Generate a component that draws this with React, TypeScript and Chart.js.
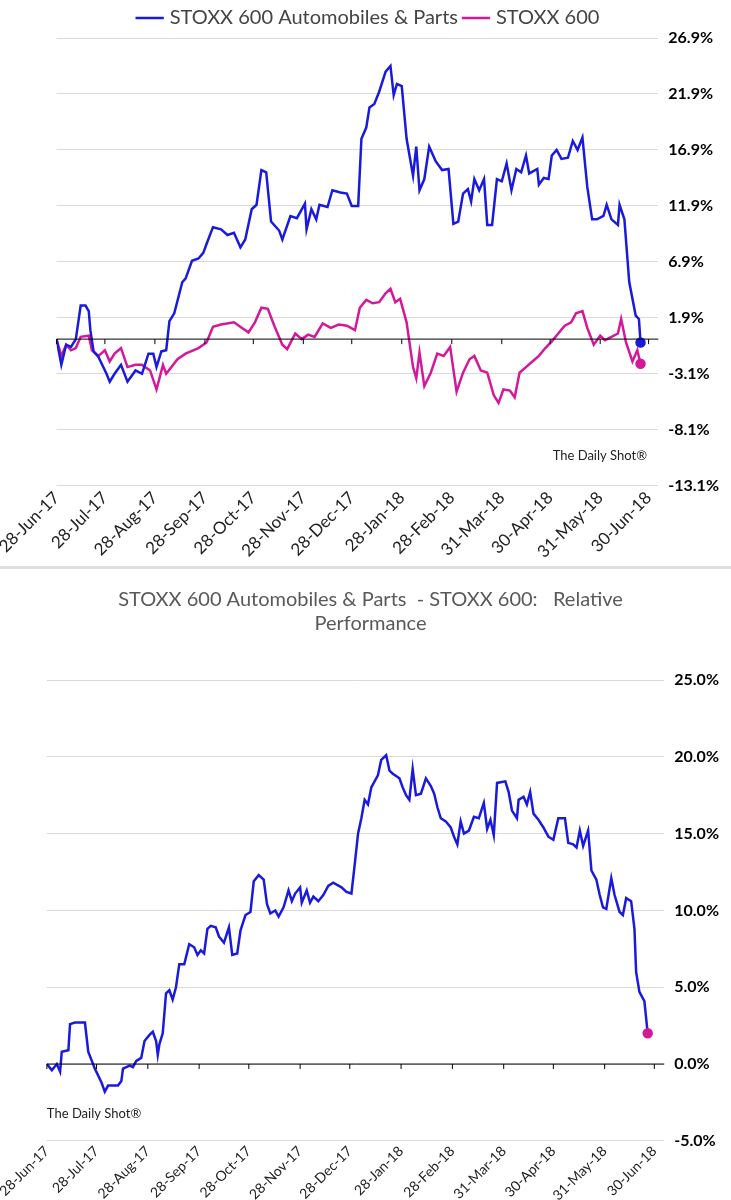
import React, { useEffect, useRef } from "react";
import { Chart, registerables } from "chart.js";
Chart.register(...registerables);

const tickDays = [0, 30, 61, 92, 122, 153, 183, 214, 245, 276, 306, 337, 367];
const tickLabels = ["28-Jun-17","28-Jul-17","28-Aug-17","28-Sep-17","28-Oct-17","28-Nov-17","28-Dec-17","28-Jan-18","28-Feb-18","31-Mar-18","30-Apr-18","31-May-18","30-Jun-18"];

const autoDays = [0,3,6,9,12,15,18,20,21,23,26,31,33,36,40,44,49,53,57,60,62,65,68,70,73,78,80,84,88,91,93,97,102,106,110,114,117,121,124,127,130,133,138,140,145,149,154,155,158,161,163,168,171,176,180,183,187,189,192,194,197,200,204,207,209,211,214,217,221,223,225,228,231,235,239,243,246,249,252,255,257,259,262,265,267,270,273,276,279,282,285,288,291,293,298,299,302,305,307,310,313,317,320,323,326,329,332,335,339,341,344,348,349,352,355,359,361,362];
const autoVals = [0,-2.3,-0.5,-0.7,0,3.0,3.0,2.5,0.8,-1.1,-1.6,-3.1,-3.8,-3.1,-2.3,-3.8,-2.8,-3.1,-1.3,-1.3,-2.5,-1.1,-1.0,1.6,2.3,5.1,5.4,7.0,7.2,7.7,8.5,10.0,9.8,9.3,9.5,8.2,8.9,11.6,12.0,15.1,14.9,10.5,9.7,8.9,11.0,10.8,12.1,9.8,11.6,10.7,12.0,11.8,13.3,13.1,13.0,11.9,11.9,17.9,18.9,20.7,21.0,22.1,23.9,24.4,21.8,22.8,22.6,17.9,14.6,17.2,13.3,14.3,17.2,15.9,15.1,15.2,10.3,10.5,13.0,13.4,12.3,14.3,13.3,14.3,10.2,10.2,14.3,14.1,15.7,13.3,15.2,14.9,16.4,14.8,15.2,13.8,14.4,14.3,16.4,16.9,16.1,16.2,17.7,16.9,18.0,13.6,10.7,10.7,11.0,12.0,10.7,10.2,12.0,10.7,5.1,2.1,1.8,-0.3];

const stoxxDays = [0,3,6,9,12,15,20,22,26,30,33,36,40,44,49,53,58,62,66,68,75,80,88,93,97,102,110,115,119,123,127,131,135,140,143,148,152,156,160,165,170,175,180,185,188,192,196,200,204,207,210,213,217,221,223,225,228,232,236,240,244,248,252,256,259,263,267,271,274,277,281,284,287,291,295,299,303,307,311,315,319,322,326,329,333,337,340,344,348,350,353,357,360,362];
const stoxxVals = [0,-1.5,-0.5,-1.0,-0.8,0.2,0.3,-1.0,-1.5,-1.0,-2.0,-1.3,-0.8,-2.5,-2.3,-2.3,-2.8,-4.5,-2.3,-3.1,-1.8,-1.3,-0.8,-0.3,1.1,1.3,1.5,1.0,0.6,1.5,2.8,2.7,1.2,-0.5,-0.9,0.5,0.0,0.4,0.2,1.4,1.0,1.3,1.2,0.8,2.8,3.5,3.2,3.3,4.1,4.5,3.3,3.6,1.5,-2.5,-3.5,-1.2,-4.2,-3.0,-1.3,-1.5,-0.7,-4.7,-3.0,-1.8,-1.5,-2.8,-3.0,-5.0,-5.7,-4.5,-4.6,-5.2,-3.0,-2.5,-2.0,-1.5,-0.8,-0.2,0.5,1.2,1.5,2.3,2.5,1.0,-0.5,0.3,-0.1,0.2,0.5,1.8,-0.3,-2.0,-1.0,-2.2];

const relDays = [0,3,6,8,9,13,14,17,23,25,29,33,35,37,43,45,46,50,52,54,57,59,62,64,66,67,68,70,72,74,76,78,80,83,86,89,91,93,95,97,99,102,104,107,110,112,115,117,120,123,125,128,131,133,135,138,140,143,146,148,150,153,154,157,159,161,164,167,170,173,178,181,184,186,188,190,192,194,196,200,202,205,207,209,213,215,217,219,221,223,226,229,232,234,236,238,241,244,246,248,250,252,255,258,261,264,266,268,270,272,277,279,281,284,285,288,290,292,294,297,300,303,306,309,313,315,318,320,322,324,327,329,332,334,336,338,341,343,346,348,350,353,355,356,358,361,363];
const relVals = [0,-0.4,0,-0.5,0.8,0.9,2.6,2.7,2.7,0.8,-0.3,-1.2,-1.8,-1.4,-1.4,-1.1,-0.3,-0.1,-0.2,0.2,0.4,1.5,1.9,2.1,1.5,0.6,1.3,2.0,4.6,4.8,4.2,5.0,6.5,6.5,7.8,7.6,7.1,7.4,7.2,8.8,9.0,8.9,8.3,7.9,8.9,7.1,7.2,8.7,9.7,9.9,11.9,12.3,12.0,10.4,9.8,10.0,9.6,10.2,11.3,10.6,11.1,11.5,10.5,11.3,10.5,10.9,10.6,11.0,11.6,11.8,11.5,11.2,11.1,13.0,15.0,16.0,17.2,16.9,18.0,18.8,19.8,20.1,19.1,18.9,18.6,18.0,17.5,17.2,19.2,17.5,17.6,18.6,18.1,17.6,16.7,16.0,15.8,15.4,14.8,14.3,15.8,15.0,15.2,16.1,16.0,17.0,15.3,15.9,14.9,18.3,18.4,17.7,16.5,16.0,17.2,17.4,16.9,17.7,16.3,15.9,15.4,14.8,14.6,16.0,16.0,14.4,14.3,14.1,15.2,14.2,15.2,12.6,12.0,11.0,10.2,10.1,12.1,11.0,9.9,9.7,10.8,10.6,8.8,6.0,4.7,4.1,2.0];

const BLUE = "#1a1adc";
const PINK = "#d4189a";
const FONT = "Lato, 'Open Sans', sans-serif";

const pts = (d: number[], v: number[]) => d.map((x, i) => ({ x, y: v[i] }));

function zeroPlugin(markText: string, tx: number, ty: number, align: CanvasTextAlign) {
  return {
    id: "zero",
    afterDatasetsDraw(chart: any) {
      const { ctx, chartArea, scales } = chart;
      const y0 = scales.y.getPixelForValue(0);
      ctx.save();
      ctx.strokeStyle = "#000";
      ctx.lineWidth = 1;
      ctx.beginPath();
      ctx.moveTo(chartArea.left, y0);
      ctx.lineTo(chartArea.right, y0);
      for (const d of tickDays) {
        const x = scales.x.getPixelForValue(d);
        ctx.moveTo(x, y0);
        ctx.lineTo(x, y0 + 5);
      }
      ctx.stroke();
      ctx.fillStyle = "#222";
      ctx.font = "13px " + FONT;
      ctx.textAlign = align;
      ctx.fillText(markText, scales.x.getPixelForValue(tx), scales.y.getPixelForValue(ty));
      ctx.restore();
    },
  };
}

function xAxis(max: number, size: number) {
  return {
    type: "linear" as const,
    min: 0,
    max,
    grid: { display: false, drawTicks: false },
    border: { display: false },
    afterBuildTicks: (ax: any) => { ax.ticks = tickDays.map((v) => ({ value: v })); },
    ticks: {
      autoSkip: false,
      maxRotation: 45,
      minRotation: 45,
      color: "#222",
      font: { size, family: FONT },
      padding: 2,
      callback: (v: any) => tickLabels[tickDays.indexOf(Number(v))] ?? "",
    },
  };
}

const yTickFont = { size: 16, weight: "bold", family: FONT };

function TopChart() {
  const ref = useRef<HTMLCanvasElement>(null);
  useEffect(() => {
    const a = pts(autoDays, autoVals);
    const s = pts(stoxxDays, stoxxVals);
    const chart = new Chart(ref.current!, {
      type: "line",
      data: {
        datasets: [
          { label: "STOXX 600 Automobiles & Parts", data: a, borderColor: BLUE, backgroundColor: BLUE, borderWidth: 2.5,
            pointRadius: (c: any) => (c.dataIndex === a.length - 1 ? 4 : 0), tension: 0 },
          { label: "STOXX 600", data: s, borderColor: PINK, backgroundColor: PINK, borderWidth: 2.5,
            pointRadius: (c: any) => (c.dataIndex === s.length - 1 ? 4 : 0), tension: 0 },
        ],
      },
      options: {
        animation: false,
        responsive: false,
        layout: { padding: { left: 10, right: 2, top: 0, bottom: 2 } },
        plugins: {
          legend: {
            display: true,
            labels: { usePointStyle: true, pointStyle: "line", boxWidth: 30, color: "#444", font: { size: 20, family: FONT }, padding: 8 },
          },
          tooltip: { enabled: false },
        },
        scales: {
          x: xAxis(373, 17),
          y: {
            position: "right",
            min: -13.1,
            max: 26.9,
            grid: { color: "#d9d9d9", drawTicks: false },
            border: { display: false },
            afterBuildTicks: (ax: any) => { ax.ticks = [-13.1, -8.1, -3.1, 1.9, 6.9, 11.9, 16.9, 21.9, 26.9].map((v) => ({ value: v })); },
            ticks: { color: "#000", font: yTickFont, padding: 10, callback: (v: any) => Number(v).toFixed(1) + "%" },
          },
        },
      },
      plugins: [zeroPlugin("The Daily Shot®", 366, -10.4, "right")],
    } as any);
    return () => chart.destroy();
  }, []);
  return <canvas ref={ref} width={731} height={566} style={{ display: "block" }} />;
}

function BottomChart() {
  const ref = useRef<HTMLCanvasElement>(null);
  useEffect(() => {
    const r = pts(relDays, relVals);
    const chart = new Chart(ref.current!, {
      type: "line",
      data: {
        datasets: [
          { label: "rel", data: r, borderColor: BLUE, borderWidth: 2.5,
            pointBackgroundColor: PINK, pointBorderColor: PINK,
            pointRadius: (c: any) => (c.dataIndex === r.length - 1 ? 4 : 0), tension: 0 },
        ],
      },
      options: {
        animation: false,
        responsive: false,
        layout: { padding: { left: 12, right: 2, top: 14, bottom: 0 } },
        plugins: {
          legend: { display: false },
          title: {
            display: true,
            text: ["STOXX 600 Automobiles & Parts  - STOXX 600:   Relative", "Performance"],
            color: "#595959",
            font: { size: 20, weight: "normal", family: FONT },
            padding: { top: 0, bottom: 44 },
          },
          tooltip: { enabled: false },
        },
        scales: {
          x: xAxis(373, 14),
          y: {
            position: "right",
            min: -5,
            max: 25,
            grid: { color: "#d9d9d9", drawTicks: false },
            border: { display: false },
            ticks: { stepSize: 5, color: "#000", font: yTickFont, padding: 10, callback: (v: any) => Number(v).toFixed(1) + "%" },
          },
        },
      },
      plugins: [zeroPlugin("The Daily Shot®", 0, -3.5, "left")],
    } as any);
    return () => chart.destroy();
  }, []);
  return <canvas ref={ref} width={731} height={632} style={{ display: "block" }} />;
}

export default function App() {
  return (
    <div style={{ position: "absolute", top: 0, left: 0, width: 731, height: 1200, overflow: "hidden", background: "#fff" }}>
      <TopChart />
      <div style={{ height: 3, background: "#e0e0e0" }} />
      <div style={{ height: 5 }} />
      <BottomChart />
    </div>
  );
}
